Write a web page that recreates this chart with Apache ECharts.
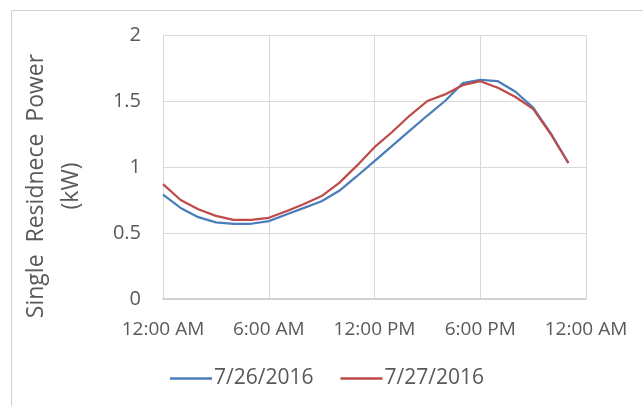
<!DOCTYPE html>
<html>
<head>
<meta charset="utf-8">
<script src="https://cdn.jsdelivr.net/npm/echarts@6/dist/echarts.min.js"></script>
<style>
html,body{margin:0;padding:0;background:#fff;}
#c{width:643px;height:406px;}
</style>
</head>
<body>
<div id="c"></div>
<script>
const hours = [0,1,2,3,4,5,6,7,8,9,10,11,12,13,14,15,16,17,18,19,20,21,22,23];
const series0726 = [0.79,0.69,0.62,0.58,0.57,0.57,0.59,0.64,0.69,0.74,0.82,0.93,1.045,1.16,1.275,1.39,1.50,1.635,1.66,1.65,1.57,1.45,1.255,1.03];
const series0727 = [0.87,0.75,0.68,0.63,0.60,0.60,0.615,0.665,0.72,0.78,0.88,1.01,1.15,1.265,1.39,1.50,1.55,1.62,1.65,1.60,1.53,1.44,1.25,1.03];
const xTickLabels = {0:'12:00 AM',6:'6:00 AM',12:'12:00 PM',18:'6:00 PM',24:'12:00 AM'};
const yTickLabels = {0:'0',0.5:'0.5',1:'1',1.5:'1.5',2:'2'};
const seriesNames = ['7/26/2016','7/27/2016'];

const FONT = 'Open Sans';
const TXT = '#595959';
const chart = echarts.init(document.getElementById('c'), null, {renderer:'canvas'});
chart.setOption({
  animation:false,
  backgroundColor:'#fff',
  graphic:[{type:'rect',left:9,top:8,shape:{width:660,height:420},style:{fill:'none',stroke:'#d0d0d0',lineWidth:1},silent:true}],
  grid:{left:163,right:57,top:35,bottom:107,containLabel:false},
  xAxis:{
    type:'value',min:0,max:24,interval:6,
    axisLine:{show:true,lineStyle:{color:'#c8c8c8',width:1.5}},
    axisTick:{show:false},
    splitLine:{show:true,lineStyle:{color:'#d9d9d9',width:1}},
    axisLabel:{margin:21,color:TXT,fontFamily:FONT,fontSize:19,formatter:v=>xTickLabels[v]}
  },
  yAxis:{
    type:'value',min:0,max:2,interval:0.5,
    name:'Single  Residnece  Power\n(kW)',
    nameLocation:'middle',nameGap:74,nameRotate:90,
    nameTextStyle:{color:TXT,fontFamily:FONT,fontSize:23,lineHeight:35,padding:[0,0,0,-38]},
    axisLine:{show:false},axisTick:{show:false},
    splitLine:{show:true,lineStyle:{color:'#d9d9d9',width:1}},
    axisLabel:{margin:22,color:TXT,fontFamily:FONT,fontSize:20,formatter:v=>yTickLabels[v]}
  },
  legend:{
    left:165,top:363,icon:'rect',itemWidth:42,itemHeight:2.5,itemGap:27,
    textStyle:{color:TXT,fontFamily:FONT,fontSize:21,padding:[0,0,0,-3]},
    data:seriesNames
  },
  series:[
    {name:seriesNames[0],type:'line',symbol:'none',data:hours.map((h,i)=>[h,series0726[i]]),lineStyle:{color:'#4A7EBB',width:2.25},itemStyle:{color:'#4A7EBB'}},
    {name:seriesNames[1],type:'line',symbol:'none',data:hours.map((h,i)=>[h,series0727[i]]),lineStyle:{color:'#BE4B48',width:2.25},itemStyle:{color:'#BE4B48'}}
  ]
});
</script>
</body>
</html>
